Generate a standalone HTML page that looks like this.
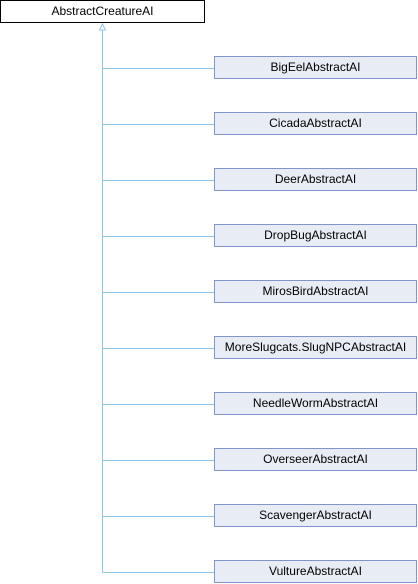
<!DOCTYPE html>
<html><head><style>
body{margin:0;width:418px;height:584px;background:#fff;position:relative;font-family:"Liberation Sans",sans-serif;font-size:12px;overflow:hidden}
.b{position:absolute;box-sizing:border-box;height:23px;text-align:center;line-height:21px;color:#000}
.r{left:0;top:0;width:205px;border:1px solid #000;background:#fff}
.c{left:214px;width:203px;border:1px solid #8095c9;background:#e8ecf5}
</style></head><body>
<svg width="418" height="584" style="position:absolute;left:0;top:0">
<g stroke="#8cc6ea" stroke-width="1" fill="none">
<line x1="102.5" y1="27" x2="102.5" y2="572.5"/>
<line x1="102.5" y1="68.5" x2="214" y2="68.5"/>
<line x1="102.5" y1="124.5" x2="214" y2="124.5"/>
<line x1="102.5" y1="180.5" x2="214" y2="180.5"/>
<line x1="102.5" y1="236.5" x2="214" y2="236.5"/>
<line x1="102.5" y1="292.5" x2="214" y2="292.5"/>
<line x1="102.5" y1="348.5" x2="214" y2="348.5"/>
<line x1="102.5" y1="404.5" x2="214" y2="404.5"/>
<line x1="102.5" y1="460.5" x2="214" y2="460.5"/>
<line x1="102.5" y1="516.5" x2="214" y2="516.5"/>
<line x1="102.5" y1="572.5" x2="214" y2="572.5"/>
</g>
<polygon points="102.5,24 99.5,30 105.5,30" fill="#fff" stroke="#8cc6ea"/>
</svg>
<div class="b r">AbstractCreatureAI</div>
<div class="b c" style="top:56px">BigEelAbstractAI</div>
<div class="b c" style="top:112px">CicadaAbstractAI</div>
<div class="b c" style="top:168px">DeerAbstractAI</div>
<div class="b c" style="top:224px">DropBugAbstractAI</div>
<div class="b c" style="top:280px">MirosBirdAbstractAI</div>
<div class="b c" style="top:336px">MoreSlugcats.SlugNPCAbstractAI</div>
<div class="b c" style="top:392px">NeedleWormAbstractAI</div>
<div class="b c" style="top:448px">OverseerAbstractAI</div>
<div class="b c" style="top:504px">ScavengerAbstractAI</div>
<div class="b c" style="top:560px">VultureAbstractAI</div>
</body></html>
